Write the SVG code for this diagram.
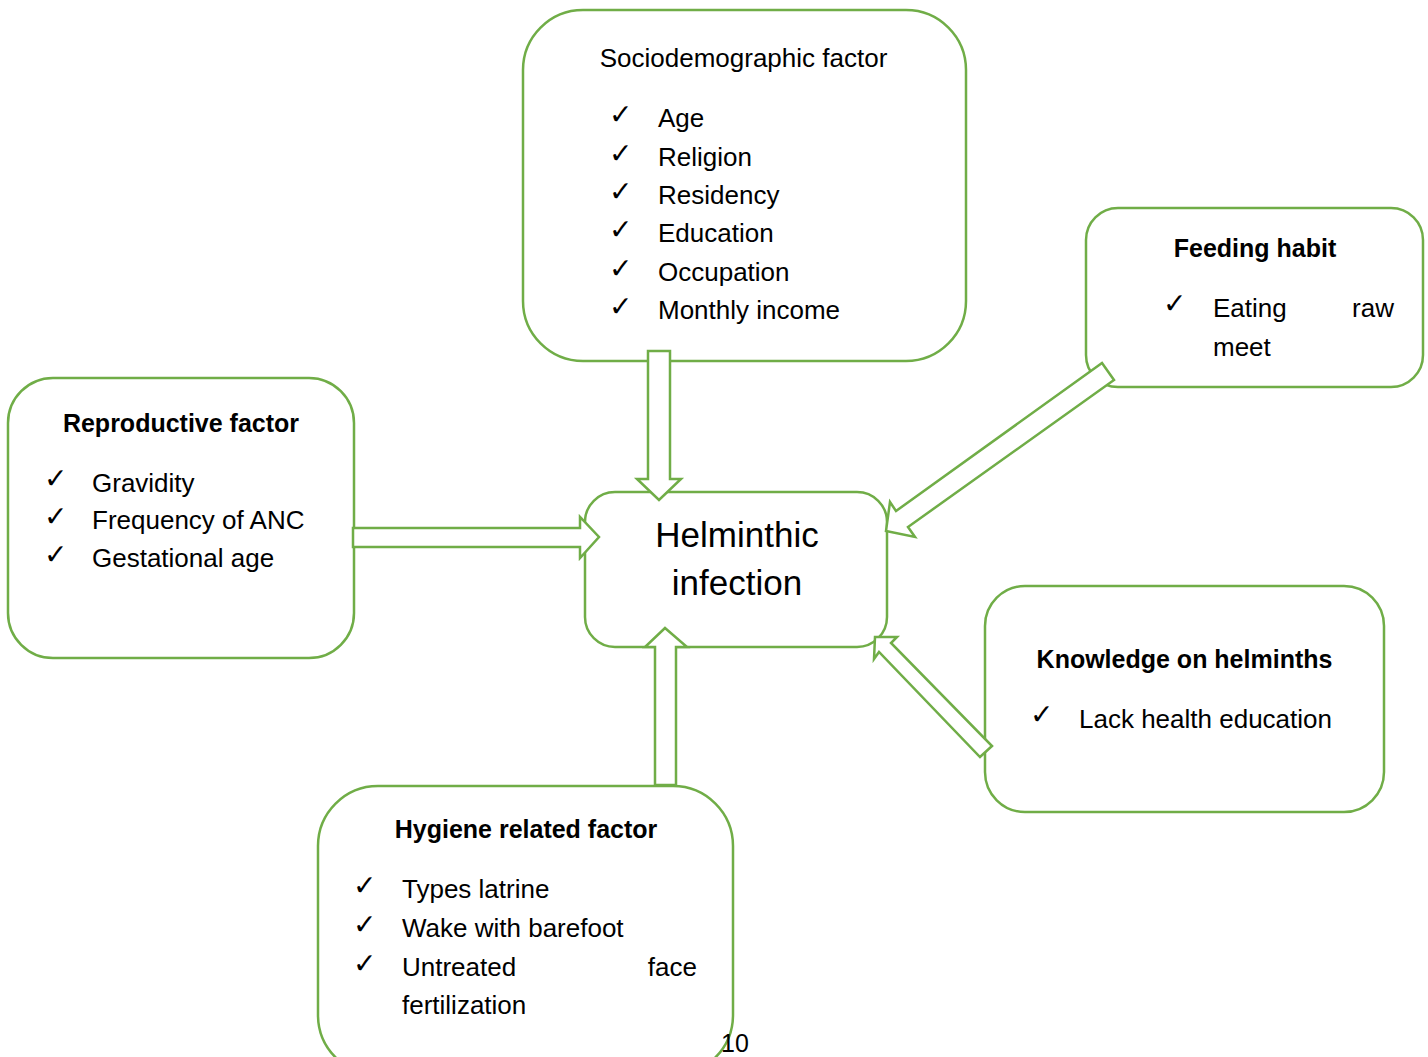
<svg xmlns="http://www.w3.org/2000/svg" width="1428" height="1057" viewBox="0 0 1428 1057">
<style>
.box{fill:#fff;stroke:#70AD47;stroke-width:2.5}
.arr{fill:#fff;stroke:#70AD47;stroke-width:2.5;stroke-linejoin:miter}
.t{font-family:"Liberation Sans",Arial,sans-serif;font-size:26px;fill:#000}
.b{font-family:"Liberation Sans",Arial,sans-serif;font-size:25px;font-weight:bold;fill:#000}
.c{font-family:"Liberation Sans",Arial,sans-serif;font-size:35px;fill:#000}
.ck{font-family:"DejaVu Sans",sans-serif;font-size:28px;font-weight:bold;fill:#000}
</style>
<rect width="1428" height="1057" fill="#fff"/>
<g id="sociodemographic">
<rect class="box" x="523" y="10" width="443" height="351" rx="60"/>
<text class="t" x="743.5" y="67" text-anchor="middle">Sociodemographic factor</text>
<text class="ck" x="609" y="124">✓</text><text class="t" x="658" y="127">Age</text>
<text class="ck" x="609" y="163">✓</text><text class="t" x="658" y="166">Religion</text>
<text class="ck" x="609" y="201">✓</text><text class="t" x="658" y="204">Residency</text>
<text class="ck" x="609" y="239">✓</text><text class="t" x="658" y="242">Education</text>
<text class="ck" x="609" y="278">✓</text><text class="t" x="658" y="281">Occupation</text>
<text class="ck" x="609" y="316">✓</text><text class="t" x="658" y="319">Monthly income</text>
</g>
<g id="feeding">
<rect class="box" x="1086" y="208" width="337" height="179" rx="32"/>
<text class="b" x="1255" y="257" text-anchor="middle">Feeding habit</text>
<text class="ck" x="1163" y="313">✓</text>
<text class="t" x="1213" y="317">Eating</text>
<text class="t" x="1394" y="317" text-anchor="end">raw</text>
<text class="t" x="1213" y="356">meet</text>
</g>
<g id="reproductive">
<rect class="box" x="8" y="378" width="346" height="280" rx="45"/>
<text class="b" x="181" y="432" text-anchor="middle">Reproductive factor</text>
<text class="ck" x="44" y="488">✓</text><text class="t" x="92" y="492">Gravidity</text>
<text class="ck" x="44" y="526">✓</text><text class="t" x="92" y="529">Frequency of ANC</text>
<text class="ck" x="44" y="564">✓</text><text class="t" x="92" y="567">Gestational age</text>
</g>
<g id="helminthic">
<rect class="box" x="585" y="492" width="302" height="155" rx="30"/>
<text class="c" x="737" y="547" text-anchor="middle">Helminthic</text>
<text class="c" x="737" y="595" text-anchor="middle">infection</text>
</g>
<g id="knowledge">
<rect class="box" x="985" y="586" width="399" height="226" rx="40"/>
<text class="b" x="1184.5" y="668" text-anchor="middle">Knowledge on helminths</text>
<text class="ck" x="1030" y="724">✓</text>
<text class="t" x="1079" y="728">Lack health education</text>
</g>
<g id="hygiene">
<rect class="box" x="318" y="786" width="415" height="289" rx="60"/>
<text class="b" x="526" y="838" text-anchor="middle">Hygiene related factor</text>
<text class="ck" x="353" y="895">✓</text><text class="t" x="402" y="898">Types latrine</text>
<text class="ck" x="353" y="934">✓</text><text class="t" x="402" y="937">Wake with barefoot</text>
<text class="ck" x="353" y="973">✓</text><text class="t" x="402" y="976">Untreated</text>
<text class="t" x="697" y="976" text-anchor="end">face</text>
<text class="t" x="402" y="1014">fertilization</text>
</g>
<g id="connectors">
<polygon class="arr" points="648,351 670,351 670,479 681,479 659,500 637,479 648,479"/>
<polygon class="arr" points="1102,363 1114,380 908,527 915,537 886,531 890,502 896,511"/>
<polygon class="arr" points="353,528 580,528 580,517 599,537 580,558 580,547 353,547"/>
<polygon class="arr" points="992,746 980,757 879,652 874,659 875,637 897,637 891,643"/>
<polygon class="arr" points="655,785 655,647 645,647 665,628 687,647 676,647 676,785"/>
</g>
<text class="t" x="721" y="1052" style="font-size:25px">10</text>
</svg>
